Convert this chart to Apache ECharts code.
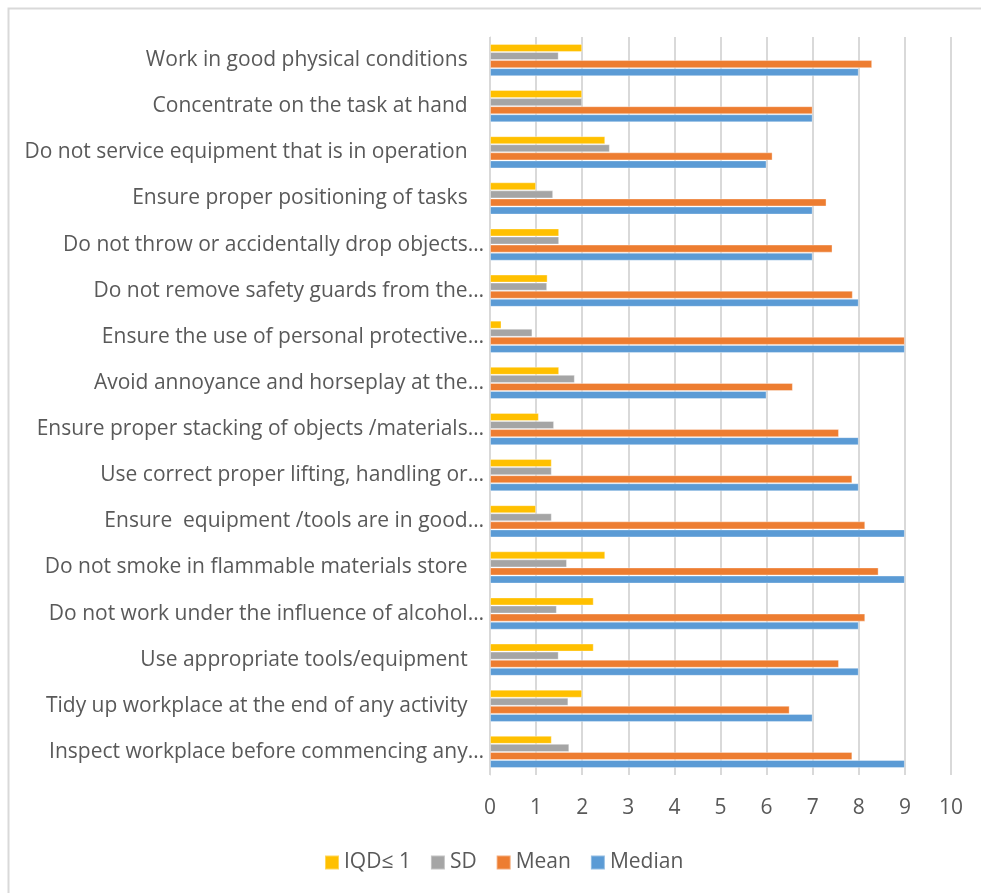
<!DOCTYPE html>
<html><head><meta charset="utf-8">
<script src="https://cdn.jsdelivr.net/npm/echarts@6/dist/echarts.min.js"></script>
<style>html,body{margin:0;padding:0;background:#fff}#c{width:981px;height:893px}</style>
</head><body><div id="c"></div>
<script>
const categories = [
  "Work in good physical conditions ",
  "Concentrate on the task at hand ",
  "Do not service equipment that is in operation ",
  "Ensure proper positioning of tasks ",
  "Do not throw or accidentally drop objects…",
  "Do not remove safety guards from the…",
  "Ensure the use of personal protective…",
  "Avoid annoyance and horseplay at the…",
  "Ensure proper stacking of objects /materials…",
  "Use correct proper lifting, handling or…",
  "Ensure  equipment /tools are in good…",
  "Do not smoke in flammable materials store ",
  "Do not work under the influence of alcohol…",
  "Use appropriate tools/equipment ",
  "Tidy up workplace at the end of any activity ",
  "Inspect workplace before commencing any…"
];
const iqd    = [2, 2, 2.5, 1, 1.5, 1.25, 0.25, 1.5, 1.06, 1.34, 1, 2.5, 2.25, 2.25, 2, 1.34];
const sd     = [1.49, 2, 2.6, 1.37, 1.5, 1.24, 0.92, 1.84, 1.39, 1.34, 1.34, 1.67, 1.45, 1.49, 1.7, 1.72];
const mean   = [8.29, 7, 6.13, 7.3, 7.43, 7.87, 9, 6.57, 7.57, 7.86, 8.14, 8.43, 8.14, 7.57, 6.5, 7.86];
const median = [8, 7, 6, 7, 7, 8, 9, 6, 8, 8, 9, 9, 8, 8, 7, 9];
const xTicks = [0, 10, 1]; // min, max, interval

const chart = echarts.init(document.getElementById('c'), null, {renderer: 'canvas'});
const font = "'Open Sans', sans-serif";
function mk(name, data, color) {
  return {
    name, type: 'bar', data,
    barGap: '0%', barCategoryGap: '30%',
    itemStyle: {color, borderColor: 'rgba(255,255,255,0.35)', borderWidth: 1},
    emphasis: {disabled: true}
  };
}
chart.setOption({
  animation: false,
  backgroundColor: '#ffffff',
  textStyle: {fontFamily: font},
  graphic: [{
    type: 'rect', left: 6, top: 6,
    shape: {width: 1100, height: 1000},
    style: {fill: 'none', stroke: '#d9d9d9', lineWidth: 2}
  }],
  grid: {left: 490, right: 30, top: 37, bottom: 118, containLabel: false},
  xAxis: {
    type: 'value', min: xTicks[0], max: xTicks[1], interval: xTicks[2],
    axisLine: {show: false}, axisTick: {show: false},
    splitLine: {show: true, lineStyle: {color: '#d9d9d9', width: 2}},
    axisLabel: {color: '#595959', fontSize: 21, fontFamily: font, margin: 23}
  },
  yAxis: {
    type: 'category', data: categories, inverse: true,
    axisLine: {show: true, lineStyle: {color: '#d9d9d9', width: 1}},
    axisTick: {show: false},
    axisLabel: {
      color: '#595959', fontSize: 21, fontFamily: font, margin: 6,
      formatter: v => v.endsWith(' ') ? v + '  ' : v
    }
  },
  legend: {
    bottom: 15, left: 319,
    itemWidth: 14, itemHeight: 14, itemGap: 19,
    icon: 'rect',
    textStyle: {color: '#595959', fontSize: 21, fontFamily: font},
    data: ['IQD≤ 1', 'SD', 'Mean', 'Median']
  },
  series: [
    mk('IQD≤ 1', iqd, '#FFC000'),
    mk('SD', sd, '#A5A5A5'),
    mk('Mean', mean, '#ED7D31'),
    mk('Median', median, '#5B9BD5')
  ]
});
</script></body></html>
